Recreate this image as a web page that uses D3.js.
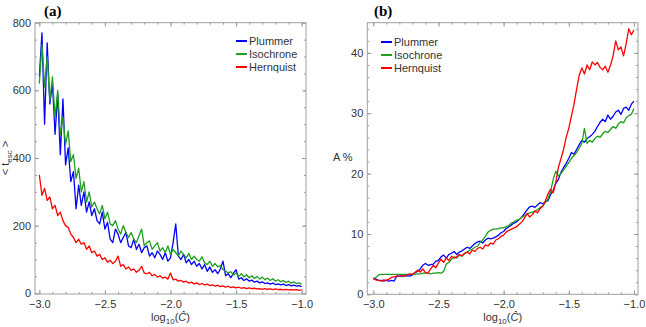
<!DOCTYPE html>
<html>
<head>
<meta charset="utf-8">
<script src="https://cdn.jsdelivr.net/npm/d3@7"></script>
<style>
  body { margin: 0; background: #fff; }
  svg { display: block; font-family: "Liberation Sans", Arial, sans-serif; }
  .tick text { fill: #333; font-size: 11px; }
</style>
</head>
<body>
<div id="chart"></div>
<script>
// log10(C) grid shared by every series
const logC = [-3.00, -2.98, -2.96, -2.94, -2.92, -2.90, -2.88, -2.86, -2.84, -2.82,
  -2.80, -2.78, -2.76, -2.74, -2.72, -2.70, -2.68, -2.66, -2.64, -2.62,
  -2.60, -2.58, -2.56, -2.54, -2.52, -2.50, -2.48, -2.46, -2.44, -2.42,
  -2.40, -2.38, -2.36, -2.34, -2.32, -2.30, -2.28, -2.26, -2.24, -2.22,
  -2.20, -2.18, -2.16, -2.14, -2.12, -2.10, -2.08, -2.06, -2.04, -2.02,
  -2.00, -1.98, -1.96, -1.94, -1.92, -1.90, -1.88, -1.86, -1.84, -1.82,
  -1.80, -1.78, -1.76, -1.74, -1.72, -1.70, -1.68, -1.66, -1.64, -1.62,
  -1.60, -1.58, -1.56, -1.54, -1.52, -1.50, -1.48, -1.46, -1.44, -1.42,
  -1.40, -1.38, -1.36, -1.34, -1.32, -1.30, -1.28, -1.26, -1.24, -1.22,
  -1.20, -1.18, -1.16, -1.14, -1.12, -1.10, -1.08, -1.06, -1.04, -1.02, -1.00];

const seriesNames = ["Plummer", "Isochrone", "Hernquist"];

// panel (a): <t_esc>
const tescPlummer = [640, 770, 500, 740, 560, 620, 470, 590, 410, 575,
  380, 430, 330, 360, 250, 320, 260, 300, 240, 270,
  230, 250, 215, 205, 240, 190, 210, 160, 150, 190,
  175, 150, 165, 180, 140, 135, 160, 130, 145, 120,
  135, 140, 110, 120, 105, 125, 115, 100, 120, 95,
  105, 150, 205, 110, 100, 115, 90, 100, 85, 95,
  80, 88, 72, 85, 65, 78, 62, 70, 58, 72,
  95, 52, 58, 46, 60, 70, 42, 46, 38, 43,
  36, 39, 33, 36, 31, 34, 29, 31, 27, 30,
  26, 28, 25, 27, 23, 26, 22, 24, 21, 23, 20];
const tescIsochrone = [620, 735, 610, 700, 570, 640, 520, 600, 470, 520,
  440, 480, 390, 410, 340, 370, 300, 330, 270, 300,
  255, 270, 250, 235, 260, 220, 240, 205, 200, 215,
  190, 175, 200, 180, 165, 180, 160, 150, 170, 190,
  140, 150, 155, 130, 140, 150, 125, 135, 120, 140,
  115, 130, 120, 110, 125, 115, 105, 118, 100, 110,
  100, 95, 108, 90, 85, 95, 80, 88, 78, 82,
  70, 66, 60, 64, 54, 60, 50, 58, 48, 55,
  46, 52, 44, 50, 42, 48, 40, 45, 38, 43,
  36, 40, 34, 38, 32, 36, 30, 34, 29, 31, 27];
const tescHernquist = [350, 290, 310, 275, 285, 250, 260, 230, 240, 215,
  200, 195, 175, 165, 150, 160, 145, 150, 130, 140,
  120, 125, 110, 115, 100, 105, 92, 98, 88, 95,
  110, 80, 85, 72, 78, 68, 72, 62, 68, 80,
  60, 58, 62, 52, 56, 48, 52, 45, 48, 42,
  60, 40, 42, 36, 38, 33, 36, 30, 33, 28,
  31, 26, 29, 25, 27, 23, 25, 21, 24, 20,
  22, 18, 21, 17, 19, 16, 18, 15, 17, 14,
  16, 14, 15, 13, 14, 12, 14, 12, 13, 11,
  13, 11, 12, 10, 12, 10, 11, 10, 11, 9, 10];

// panel (b): A %
const aPlummer = [2.7, 2.5, 2.3, 2.3, 2.2, 2.3, 2.2, 2.3, 2.2, 3.0,
  3.0, 3.0, 3.0, 3.1, 3.0, 3.2, 3.6, 3.8, 4.2, 4.8,
  5.1, 4.8, 4.9, 5.0, 5.5, 5.6, 6.2, 6.5, 6.0, 6.6,
  6.8, 7.1, 6.6, 7.0, 7.2, 7.5, 7.8, 7.6, 8.0, 8.4,
  8.7, 8.8, 8.5, 9.0, 9.3, 9.2, 9.3, 9.5, 9.8, 10.2,
  10.4, 10.9, 11.2, 11.5, 11.8, 12.0, 12.4, 12.8, 13.4, 14.0,
  14.5, 14.6, 14.4, 14.8, 15.2, 15.0, 15.3, 15.5, 16.5, 17.2,
  18.4, 19.0, 20.2, 21.0, 21.7, 22.5, 23.5, 23.2, 24.0, 24.8,
  25.5, 25.2, 25.8, 26.1, 26.5, 27.0, 27.8, 28.5, 29.0, 28.6,
  29.7, 29.0, 29.5, 30.2, 30.5, 29.8, 30.8, 31.0, 30.5, 31.5, 32.0];
const aIsochrone = [2.5, 2.8, 3.2, 3.3, 3.3, 3.3, 3.3, 3.3, 3.3, 3.3,
  3.3, 3.3, 3.3, 3.3, 3.3, 3.3, 3.3, 3.4, 3.4, 3.5,
  3.5, 3.5, 3.4, 3.5, 3.5, 3.6, 3.5, 3.8, 5.0, 5.3,
  5.8, 6.2, 6.0, 6.5, 6.3, 6.7, 7.0, 7.3, 7.5, 7.8,
  8.0, 8.6, 9.0, 9.6, 10.3, 10.6, 10.8, 10.8, 10.9, 11.0,
  11.0, 11.2, 11.4, 11.8, 12.0, 12.3, 12.4, 12.8, 13.0, 13.3,
  13.5, 13.6, 13.8, 14.0, 14.4, 14.6, 15.2, 15.8, 17.0, 19.0,
  20.4, 19.6, 20.0, 20.6, 21.2, 21.8, 22.5, 23.0, 23.5, 24.2,
  25.0, 27.5, 25.0, 25.5, 25.2, 25.8, 26.2, 26.0, 26.6, 27.0,
  26.8, 27.3, 27.8, 27.5, 28.2, 28.6, 28.4, 29.2, 29.6, 29.8, 30.8];
const aHernquist = [2.6, 2.4, 2.3, 2.2, 2.4, 2.3, 2.5, 2.8, 2.9, 3.0,
  3.0, 3.1, 3.0, 3.2, 3.4, 3.3, 3.6, 4.0, 3.7, 4.2,
  3.6, 3.5, 4.2, 4.8, 4.4, 5.2, 5.8, 5.3, 6.0, 5.6,
  6.3, 6.0, 6.2, 6.6, 6.4, 6.8, 7.0, 6.7, 7.3, 7.1,
  7.6, 7.8, 7.5, 8.2, 8.0, 8.5, 8.3, 9.0, 9.2, 9.6,
  9.8, 10.3, 10.6, 10.8, 11.0, 11.2, 11.6, 12.0, 12.6, 13.4,
  12.8, 13.2, 13.8, 13.5, 14.2, 14.6, 15.5, 16.6, 17.4, 16.8,
  18.5, 21.0, 22.5, 24.0, 26.0, 27.5, 29.5, 31.5, 34.0, 36.3,
  37.5, 36.5, 38.0, 37.2, 38.5, 38.0, 38.4, 37.6, 37.2, 37.8,
  36.8, 38.0, 39.5, 42.0, 40.5, 41.0, 39.5, 41.5, 44.0, 43.0, 43.8];

const colors = ["#0000ff", "#1f9e1f", "#ff0000"];

const svg = d3.select("#chart").append("svg")
  .attr("width", 646)
  .attr("height", 327);

function drawPanel(opt) {
  const x = d3.scaleLinear().domain(opt.xDomain).range([opt.left, opt.right]);
  const y = d3.scaleLinear().domain(opt.yDomain).range([opt.bottom, opt.top]);
  const g = svg.append("g");

  // minor ticks, all four sides
  const minorX = d3.range(-3, -0.999, 0.1);
  const minorY = d3.range(0, opt.yDomain[1], opt.yMinor);
  const sides = [
    [d3.axisBottom(x), opt.bottom, "x"], [d3.axisTop(x), opt.top, "x"],
    [d3.axisLeft(y), opt.left, "y"], [d3.axisRight(y), opt.right, "y"]
  ];
  sides.forEach(([ax, pos, dim]) => {
    const tr = dim === "x" ? `translate(0,${pos})` : `translate(${pos},0)`;
    g.append("g").attr("transform", tr)
      .call(ax.tickValues(dim === "x" ? minorX : minorY).tickSize(-2).tickFormat(""))
      .call(s => s.select(".domain").remove())
      .selectAll("line").attr("stroke", "#999");
  });

  // major ticks
  const fmtX = d3.format(".1f");
  g.append("g").attr("transform", `translate(0,${opt.bottom})`)
    .call(d3.axisBottom(x).tickValues([-3, -2.5, -2, -1.5, -1]).tickSize(-4).tickPadding(6).tickFormat(fmtX))
    .call(s => s.select(".domain").remove());
  g.append("g").attr("transform", `translate(0,${opt.top})`)
    .call(d3.axisTop(x).tickValues([-3, -2.5, -2, -1.5, -1]).tickSize(-4).tickFormat(""))
    .call(s => s.select(".domain").remove());
  g.append("g").attr("transform", `translate(${opt.left},0)`)
    .call(d3.axisLeft(y).tickValues(opt.yTicks).tickSize(-4).tickPadding(4).tickFormat(d3.format("d")))
    .call(s => s.select(".domain").remove());
  g.append("g").attr("transform", `translate(${opt.right},0)`)
    .call(d3.axisRight(y).tickValues(opt.yTicks).tickSize(-4).tickFormat(""))
    .call(s => s.select(".domain").remove());
  g.selectAll(".tick line").attr("stroke", "#999");

  // frame
  g.append("rect")
    .attr("x", opt.left).attr("y", opt.top)
    .attr("width", opt.right - opt.left).attr("height", opt.bottom - opt.top)
    .attr("fill", "none").attr("stroke", "#a0a0a0").attr("stroke-width", 1);

  // clip so lines stay in the frame
  const clipId = "clip" + opt.tag;
  svg.append("clipPath").attr("id", clipId).append("rect")
    .attr("x", opt.left).attr("y", opt.top)
    .attr("width", opt.right - opt.left).attr("height", opt.bottom - opt.top);

  const line = d3.line()
    .x((d, i) => x(logC[i]))
    .y(d => y(d));

  g.append("g").attr("clip-path", `url(#${clipId})`)
    .selectAll("path")
    .data(opt.series)
    .join("path")
    .attr("d", d => line(d))
    .attr("fill", "none")
    .attr("stroke", (d, i) => colors[i])
    .attr("stroke-width", 1.3)
    .attr("stroke-linejoin", "round");

  // legend
  const leg = g.append("g");
  seriesNames.forEach((name, i) => {
    const ly = opt.legY + i * 13;
    leg.append("line")
      .attr("x1", opt.legX).attr("x2", opt.legX + 11)
      .attr("y1", ly).attr("y2", ly)
      .attr("stroke", colors[i]).attr("stroke-width", 2);
    leg.append("text")
      .attr("x", opt.legX + 13).attr("y", ly + 4)
      .attr("font-size", 11).attr("fill", "#333")
      .text(name);
  });

  // panel title
  svg.append("text")
    .attr("x", opt.titleX).attr("y", 16)
    .attr("font-family", "'Liberation Serif', 'DejaVu Serif', serif")
    .attr("font-weight", "bold").attr("font-size", 15)
    .text(opt.title);

  // x label
  const xl = svg.append("text")
    .attr("x", (opt.left + opt.right) / 2).attr("y", 321)
    .attr("text-anchor", "middle").attr("font-size", 11).attr("fill", "#333");
  xl.append("tspan").text("log");
  xl.append("tspan").attr("dy", 3).attr("font-size", 8).text("10");
  xl.append("tspan").attr("dy", -3).text("(");
  xl.append("tspan").attr("font-style", "italic").text("Ĉ");
  xl.append("tspan").text(")");

  return { x, y };
}

drawPanel({
  tag: "a", title: "(a)", titleX: 44,
  left: 35, right: 306, top: 22.7, bottom: 294,
  xDomain: [-3.033, -0.967], yDomain: [-2, 800],
  yTicks: [0, 200, 400, 600, 800], yMinor: 50,
  series: [tescPlummer, tescIsochrone, tescHernquist],
  legX: 236, legY: 41
});

drawPanel({
  tag: "b", title: "(b)", titleX: 374,
  left: 367.3, right: 638, top: 22.7, bottom: 294.3,
  xDomain: [-3.046, -0.969], yDomain: [0, 45],
  yTicks: [0, 10, 20, 30, 40], yMinor: 2,
  series: [aPlummer, aIsochrone, aHernquist],
  legX: 381, legY: 42
});

// y labels
const yl = svg.append("text")
  .attr("transform", "translate(9,158) rotate(-90)")
  .attr("text-anchor", "middle").attr("font-size", 11).attr("fill", "#333");
yl.append("tspan").text("< t");
yl.append("tspan").attr("dy", 3).attr("font-size", 8).text("esc");
yl.append("tspan").attr("dy", -3).text(" >");

svg.append("text")
  .attr("x", 333).attr("y", 161)
  .attr("font-size", 11).attr("fill", "#333")
  .text("A %");
</script>
</body>
</html>
